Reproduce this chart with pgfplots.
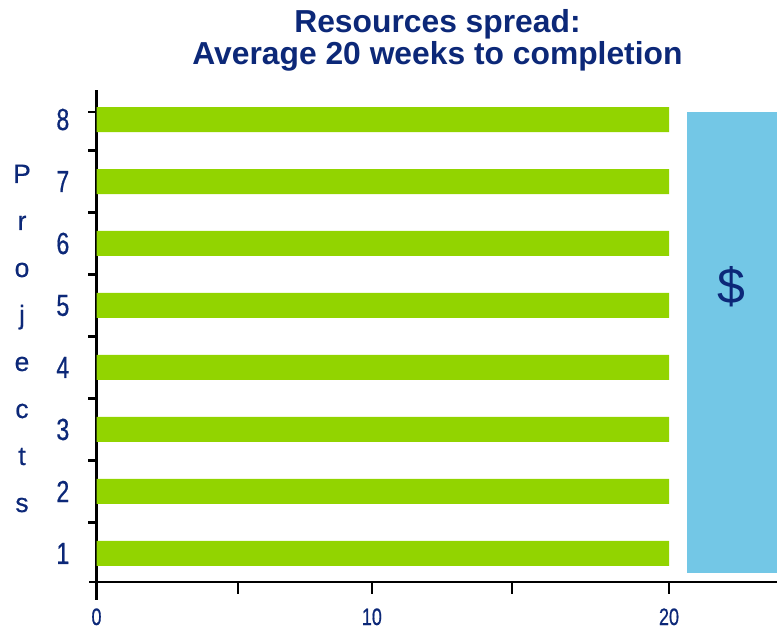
\documentclass[border=0pt]{standalone}
\usepackage{fontspec}
\setmainfont{Liberation Sans}
\newfontfamily\narrowfont[FakeStretch=0.76, FakeBold=0.6]{Liberation Sans}
\newfontfamily\captionfont[FakeBold=0.5]{Liberation Sans}
\usepackage{pgfplots}
\pgfplotsset{compat=1.18}

\definecolor{navy}{RGB}{12,40,120}
\definecolor{barGreen}{RGB}{146,212,0}
\definecolor{moneyBlue}{RGB}{115,199,230}

\begin{document}
\begin{tikzpicture}
\useasboundingbox (0,0) rectangle (777bp,630bp);

% title
\node[anchor=base, text=navy, font=\bfseries\fontsize{31.8bp}{32bp}\selectfont]
  at (437.5bp,597bp) {Resources spread:};
\node[anchor=base, text=navy, font=\bfseries\fontsize{31.8bp}{32bp}\selectfont]
  at (437.5bp,565bp) {Average 20 weeks to completion};

% vertical axis caption, one letter per line
\foreach \ch [count=\i from 0] in {P,r,o,j,e,c,t,s}
  \node[anchor=base, text=navy, font=\captionfont\fontsize{26.5bp}{27bp}\selectfont]
    at (22bp,{(447-47*\i)*1bp}) {\ch};

\begin{axis}[
  at={(96.5bp,48bp)}, anchor=south west,
  scale only axis, width=687bp, height=492bp,
  xmin=0, xmax=24, ymin=0.54, ymax=8.476,
  axis x line*=bottom, axis y line*=left,
  x axis line style={line width=2.6bp, shorten <=-7bp},
  y axis line style={line width=2.6bp, shorten <=-18bp},
  tick align=outside,
  major tick length=12bp, minor tick length=8bp,
  every tick/.style={black, line width=2.6bp},
  xtick={0,4.95,9.62,14.51,20},
  xticklabels={0,,10,,20},
  ytick={1,2,3,4,5,6,7,8},
  yticklabels={1,2,3,4,5,6,7,8},
  major y tick style={draw=none},
  minor ytick={1.5,2.5,3.5,4.5,5.5,6.5,7.5,8.12},
  xticklabel style={anchor=base, yshift=-31bp, inner sep=0pt, text=navy,
    font=\narrowfont\fontsize{23.7bp}{24bp}\selectfont},
  yticklabel style={anchor=east, xshift=-15bp, inner sep=0pt, text=navy,
    font=\narrowfont\fontsize{30.5bp}{31bp}\selectfont},
  xbar, bar width=25bp,
]
% weeks to completion for each project
\addplot[fill=barGreen, draw=none] coordinates {
  (20,1) (20,2) (20,3) (20,4) (20,5) (20,6) (20,7) (20,8)
};
% budget block
\fill[moneyBlue] (axis cs:20.63,0.685) rectangle (axis cs:25,8.12);
\end{axis}

\node[text=navy, font=\fontsize{50bp}{52bp}\selectfont] at (731bp,343bp) {\$};
\end{tikzpicture}
\end{document}
